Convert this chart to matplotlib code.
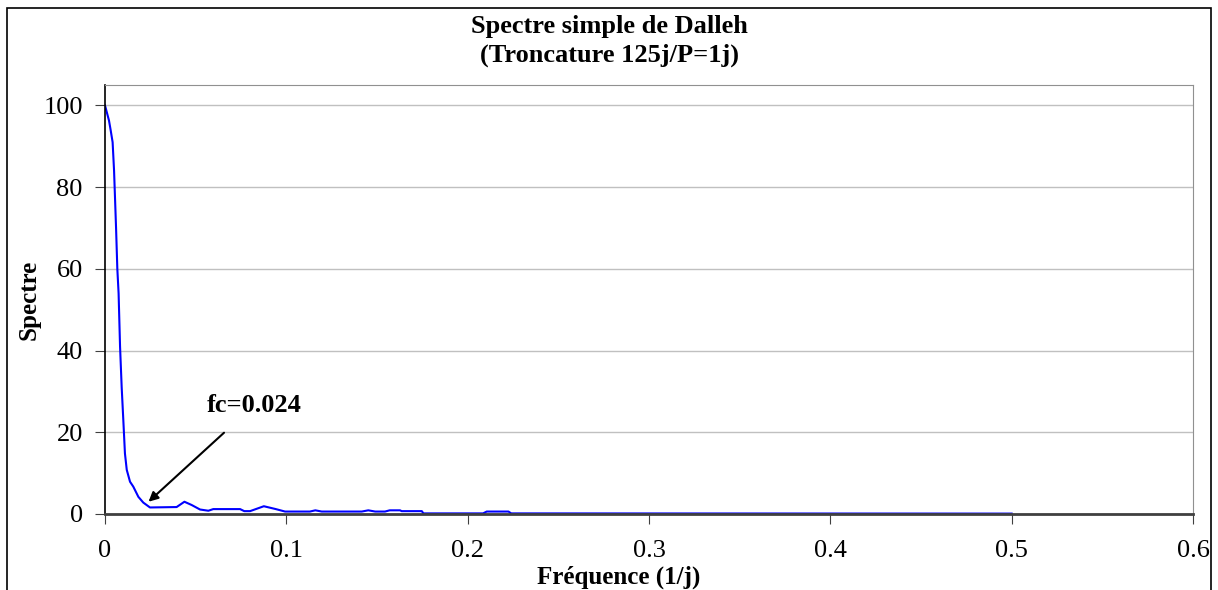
import numpy as np
import matplotlib
matplotlib.use("Agg")
import matplotlib.pyplot as plt
from matplotlib.patches import Rectangle

# Data
freq = [0, 0.0022, 0.0031, 0.0042, 0.005, 0.0061, 0.0068, 0.0075, 0.0083,
        0.0092, 0.0101, 0.011, 0.012, 0.0138, 0.0156, 0.0184, 0.0211, 0.0248,
        0.0395, 0.0438, 0.0478, 0.0524, 0.057, 0.0597, 0.0745, 0.0768, 0.08,
        0.0876, 0.0942, 0.0993, 0.113, 0.116, 0.1195, 0.1416, 0.1452, 0.149,
        0.1544, 0.157, 0.1627, 0.1636, 0.1747, 0.1756, 0.2085, 0.2105, 0.2225,
        0.224, 0.5]
spectre = [100, 96.3, 94, 91, 84, 70, 60, 54, 41,
           31, 23, 14.8, 10.8, 7.9, 6.7, 4.2, 2.8, 1.6,
           1.7, 3.0, 2.2, 1.1, 0.8, 1.2, 1.2, 0.7, 0.7,
           1.9, 1.2, 0.6, 0.6, 0.9, 0.6, 0.6, 0.9, 0.6,
           0.6, 0.9, 0.9, 0.7, 0.7, 0.15, 0.15, 0.6, 0.6,
           0.15, 0.1]
xticklabels = ["0", "0.1", "0.2", "0.3", "0.4", "0.5", "0.6"]
fc = 0.024
fc_val = 1.6

plt.rcParams['font.family'] = ['Liberation Serif', 'DejaVu Serif']

fig = plt.figure(figsize=(12.18, 5.9), dpi=100)
ax = fig.add_axes([105 / 1218, 76 / 590, 1088 / 1218, 429 / 590])

ax.plot(freq, spectre, color="#0000FF", linewidth=1.5)

ax.set_xlim(0, 0.6)
ax.set_ylim(0, 105)
ax.set_xticks(np.arange(0, 0.61, 0.1))
ax.set_xticklabels(xticklabels)
ax.set_yticks(np.arange(0, 101, 20))
ax.yaxis.grid(True, color="#c0c0c0", linewidth=1)
ax.set_axisbelow(True)
ax.tick_params(axis="both", labelsize=19, direction="out", length=7,
               color="#404040")
ax.tick_params(axis="x", pad=12)
ax.tick_params(axis="y", pad=9)

ax.spines["left"].set_color("black")
ax.spines["left"].set_linewidth(1.2)
ax.spines["bottom"].set_color("#404040")
ax.spines["bottom"].set_linewidth(2)
ax.spines["top"].set_color("#909090")
ax.spines["right"].set_color("#909090")

fig.text(619 / 1218, 1 - 577 / 590, "Fréquence (1/j)", ha="center",
         va="center", fontsize=18, fontweight="bold")
fig.text(29 / 1218, 1 - 300 / 590, "Spectre", ha="center", va="center",
         rotation=90, fontsize=18, fontweight="bold")

fig.text(0.5, 1 - 27 / 590, "Spectre simple de Dalleh", ha="center",
         va="center", fontsize=19, fontweight="bold")
fig.text(0.5, 1 - 55 / 590, "(Troncature 125j/P=1j)", ha="center",
         va="center", fontsize=19, fontweight="bold")

ax.annotate("fc=0.024", xy=(fc, fc_val + 1.4), xytext=(0.056, 26.6),
            fontsize=19, fontweight="bold", va="center", ha="left",
            arrowprops=dict(arrowstyle="-|>", color="black", lw=1.5,
                            shrinkA=14, shrinkB=0, mutation_scale=14))

# outer chart border
fig.patches.append(Rectangle((7 / 1218, -0.05), 1204 / 1218, 1.05 - 8 / 590,
                             transform=fig.transFigure, fill=False,
                             edgecolor="black", linewidth=1.2))

fig.savefig("out.png", dpi=100)
